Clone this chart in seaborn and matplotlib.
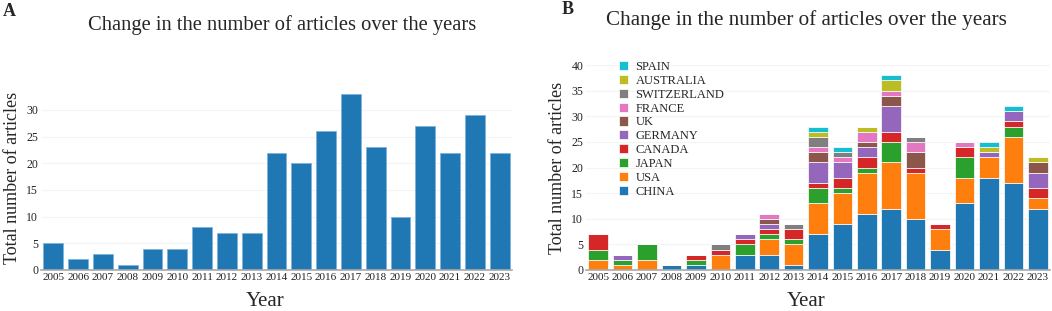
import pandas as pd
import numpy as np
import matplotlib
matplotlib.use("Agg")
import matplotlib.pyplot as plt
import seaborn as sns

# Data
years = list(range(2005, 2024))
totals = [5, 2, 3, 1, 4, 4, 8, 7, 7, 22, 20, 26, 33, 23, 10, 27, 22, 29, 22]

countries = ["CHINA", "USA", "JAPAN", "CANADA", "GERMANY", "UK",
             "FRANCE", "SWITZERLAND", "AUSTRALIA", "SPAIN"]
china       = [0, 0, 0, 1, 1, 0, 3, 3, 1, 7, 9, 11, 12, 10, 4, 13, 18, 17, 12]
usa         = [2, 1, 2, 0, 0, 3, 0, 3, 4, 6, 6, 8, 9, 9, 4, 5, 4, 9, 2]
japan       = [2, 1, 3, 0, 1, 0, 2, 1, 1, 3, 1, 1, 4, 0, 0, 4, 0, 2, 0]
canada      = [3, 0, 0, 0, 1, 1, 1, 1, 2, 1, 2, 2, 2, 1, 1, 2, 0, 1, 2]
germany     = [0, 1, 0, 0, 0, 0, 1, 1, 0, 4, 3, 2, 5, 0, 0, 0, 1, 2, 3]
uk          = [0, 0, 0, 0, 0, 0, 0, 1, 0, 2, 0, 1, 2, 3, 0, 0, 0, 0, 2]
france      = [0, 0, 0, 0, 0, 0, 0, 1, 0, 1, 1, 2, 1, 2, 0, 1, 0, 0, 0]
switzerland = [0, 0, 0, 0, 0, 1, 0, 0, 1, 2, 1, 0, 0, 1, 0, 0, 0, 0, 0]
australia   = [0, 0, 0, 0, 0, 0, 0, 0, 0, 1, 0, 1, 2, 0, 0, 0, 1, 0, 1]
spain       = [0, 0, 0, 0, 0, 0, 0, 0, 0, 1, 1, 0, 1, 0, 0, 0, 1, 1, 0]

country_counts = [china, usa, japan, canada, germany, uk,
                  france, switzerland, australia, spain]

# Long-form table for the stacked chart
rows = []
for name, counts in zip(countries, country_counts):
    for yr, c in zip(years, counts):
        rows.append({"Year": yr, "Country": name, "Count": c})
df_country = pd.DataFrame(rows)

palette = dict(zip(countries, sns.color_palette("tab10", 10)))

sns.set_style("white")
plt.rcParams["font.family"] = ["Liberation Serif", "DejaVu Serif"]

fig = plt.figure(figsize=(10.52, 3.11), dpi=100)
ax1 = fig.add_axes([41 / 1052, 41 / 311, 471 / 1052, 185 / 311])
ax2 = fig.add_axes([586 / 1052, 41 / 311, 464 / 1052, 205 / 311])

grid_col = "#f4f4f4"
axis_col = "#aaaaaa"

# Panel A
sns.barplot(x=[str(y) for y in years], y=totals, color="#1f77b4",
            saturation=1, width=0.8, edgecolor="#7fb3dc", linewidth=0.6, ax=ax1)
ax1.set_ylim(0, 34.65)
ax1.set_xlim(-0.5, 18.5)
ax1.set_yticks(range(0, 31, 5))

# Panel B
sns.histplot(data=df_country, x="Year", weights="Count", hue="Country",
             hue_order=countries[::-1], palette=palette, multiple="stack",
             discrete=True, shrink=0.8, alpha=1, edgecolor="white",
             linewidth=0.5, ax=ax2)
ax2.set_ylim(0, 40)
ax2.set_xlim(2004.5, 2023.5)
ax2.set_xticks(years)
ax2.set_yticks(range(0, 41, 5))

for ax, ylab in ((ax1, -0.195), (ax2, -0.176)):
    ax.set_axisbelow(True)
    ax.yaxis.grid(True, color=grid_col, linewidth=0.8)
    for s in ("top", "right", "left"):
        ax.spines[s].set_visible(False)
    ax.spines["bottom"].set_color(axis_col)
    ax.spines["bottom"].set_linewidth(1.2)
    ax.tick_params(axis="both", length=0, labelsize=8, colors="#222222", pad=2)
    ax.tick_params(axis="y", labelsize=8.5)
    ax.set_xlabel("Year", fontsize=15)
    ax.set_ylabel("Total number of articles", fontsize=13, labelpad=4)
    ax.xaxis.set_label_coords(0.475, ylab, transform=ax.transAxes)
    ax.xaxis.label.set_va("baseline")

sns.move_legend(ax2, "upper left", bbox_to_anchor=(0.046, 1.075), frameon=False,
                title=None, fontsize=9, handlelength=0.75, handleheight=0.75,
                labelspacing=0.15, handletextpad=0.6)

fig.text(282 / 1052, 1 - 25 / 311, "Change in the number of articles over the years",
         ha="center", va="center", fontsize=14.8)
fig.text(806 / 1052, 1 - 20 / 311, "Change in the number of articles over the years",
         ha="center", va="center", fontsize=15.2)
fig.text(3 / 1052, 1 - 11 / 311, "A", ha="left", va="center", fontsize=13, fontweight="bold")
fig.text(562 / 1052, 1 - 10 / 311, "B", ha="left", va="center", fontsize=13, fontweight="bold")

fig.savefig("out.png", dpi=100)
